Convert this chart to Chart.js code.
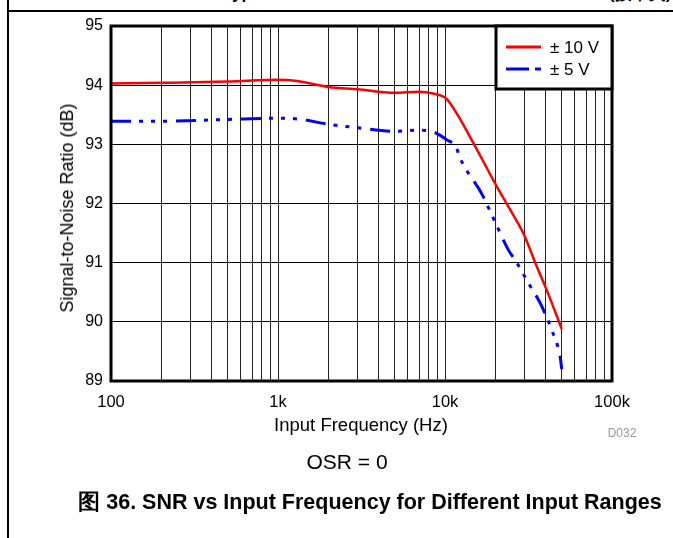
<!DOCTYPE html>
<html>
<head>
<meta charset="utf-8">
<script src="https://cdn.jsdelivr.net/npm/chart.js@4.4.1/dist/chart.umd.min.js"></script>
<style>
  html, body { margin: 0; padding: 0; background: #fff; }
  body { width: 673px; height: 538px; position: relative; overflow: hidden; font-family: 'Liberation Sans', Arial, sans-serif; }
  #chart { position: absolute; left: 0; top: 0; }
  .frame-left { position: absolute; left: 7px; top: 0; width: 1.5px; height: 538px; background: #000; }
  .frame-top { position: absolute; left: 7px; top: 10px; width: 666px; height: 1.5px; background: #000; }
  .txt { position: absolute; white-space: nowrap; line-height: 1; color: #000; }
  .c { transform: translate(-50%, -50%); }
</style>
</head>
<body>
<div class="frame-left"></div>
<div class="frame-top"></div>
<div class="txt" style="left:223px; top:-15px; font-size:17px; font-weight:bold;">Typical Characteristics</div>
<div class="txt" style="left:609px; top:-15px; font-size:17px; font-weight:bold;">(接下页)</div>
<canvas id="chart" width="673" height="538"></canvas>
<div class="txt c" style="left:67px; top:208px; font-size:18px; transform: translate(-50%, -50%) rotate(-90deg);">Signal-to-Noise Ratio (dB)</div>
<div class="txt c" style="left:361px; top:425px; font-size:18.5px;">Input Frequency (Hz)</div>
<div class="txt c" style="left:622px; top:433px; font-size:12px; color:#999;">D032</div>
<div class="txt c" style="left:347px; top:461px; font-size:21px;">OSR = 0</div>
<div class="txt c" style="left:370px; top:503px; font-size:21.5px; font-weight:bold;">图 36. SNR vs Input Frequency for Different Input Ranges</div>

<script>
// ±10 V range
const freq10 = [100, 200, 500, 1000, 1300, 2000, 3000, 5000, 7000, 8500, 10000, 10700, 12000, 14800, 20400, 24500, 29400, 35400, 40600, 50000];
const snr10 = [94.03, 94.04, 94.06, 94.09, 94.07, 93.97, 93.93, 93.87, 93.89, 93.86, 93.79, 93.70, 93.48, 93.02, 92.29, 91.90, 91.50, 90.94, 90.54, 89.88];

// ±5 V range
const freq5 = [100, 200, 500, 1000, 1300, 2000, 3000, 5000, 7000, 8500, 10200, 11700, 12300, 16700, 20000, 23900, 26900, 31500, 37100, 43600, 48900, 50000];
const snr5 = [93.39, 93.39, 93.42, 93.44, 93.43, 93.34, 93.28, 93.22, 93.24, 93.21, 93.08, 92.94, 92.77, 92.15, 91.68, 91.22, 91.00, 90.66, 90.32, 89.86, 89.41, 89.20];

const seriesLabels = ['± 10 V', '± 5 V'];

// log axis: gridlines at 1..9 per decade, labels only at decades
const decadeValues = [100, 1000, 10000, 100000];
const decadeLabels = ['100', '1k', '10k', '100k'];
const gridFreqs = [];
for (let d = 100; d < 100000; d *= 10) {
    for (let m = 1; m < 10; m++) gridFreqs.push(d * m);
}
gridFreqs.push(100000);

const yTicks = [89, 90, 91, 92, 93, 94, 95];

const FONT = "'Liberation Sans', Arial, sans-serif";
const blueDash = [20, 8, 4, 8, 4, 8, 4, 9];

const toPoints = (xs, ys) => xs.map((x, i) => ({ x: x, y: ys[i] }));

const frameAndLegend = {
    id: 'frameAndLegend',
    afterDatasetsDraw(chart) {
        const { ctx, chartArea: a } = chart;
        ctx.save();
        ctx.strokeStyle = '#000';
        ctx.lineWidth = 3;
        ctx.strokeRect(a.left, a.top, a.right - a.left, a.bottom - a.top);
        ctx.restore();
    },
    afterDraw(chart) {
        const { ctx, chartArea: a } = chart;
        const boxW = 116, boxH = 63;
        const x0 = a.right - boxW, y0 = a.top;
        ctx.save();
        ctx.fillStyle = '#fff';
        ctx.fillRect(x0, y0, boxW, boxH);
        ctx.strokeStyle = '#000';
        ctx.lineWidth = 3;
        ctx.strokeRect(x0, y0, boxW, boxH);

        ctx.font = '17px ' + FONT;
        ctx.fillStyle = '#000';
        ctx.textBaseline = 'middle';
        const rows = [y0 + 21, y0 + 43];
        chart.data.datasets.forEach((ds, i) => {
            ctx.beginPath();
            ctx.strokeStyle = ds.borderColor;
            ctx.lineWidth = 3;
            ctx.setLineDash(i === 1 ? [23, 6, 6, 100] : []);
            ctx.moveTo(x0 + 10, rows[i]);
            ctx.lineTo(x0 + 45, rows[i]);
            ctx.stroke();
            ctx.setLineDash([]);
            ctx.fillText(ds.label, x0 + 54, rows[i] + 1);
        });
        ctx.restore();
    }
};

new Chart(document.getElementById('chart'), {
    type: 'line',
    data: {
        datasets: [{
            label: seriesLabels[0],
            data: toPoints(freq10, snr10),
            borderColor: '#ff0000',
            borderWidth: 2.5,
            pointRadius: 0,
            cubicInterpolationMode: 'monotone',
            fill: false
        }, {
            label: seriesLabels[1],
            data: toPoints(freq5, snr5),
            borderColor: '#0000ff',
            borderWidth: 3,
            borderDash: blueDash,
            pointRadius: 0,
            cubicInterpolationMode: 'monotone',
            fill: false
        }]
    },
    options: {
        responsive: false,
        animation: false,
        layout: { padding: { left: 0, top: 26, right: 61, bottom: 0 } },
        plugins: { legend: { display: false }, tooltip: { enabled: false } },
        scales: {
            x: {
                type: 'logarithmic',
                min: 100,
                max: 100000,
                afterBuildTicks: (scale) => { scale.ticks = gridFreqs.map(v => ({ value: v })); },
                afterFit: (scale) => { scale.height = 157; },
                grid: { color: '#222', lineWidth: 1, drawTicks: false },
                border: { display: false },
                ticks: {
                    autoSkip: false,
                    maxRotation: 0,
                    padding: 12,
                    color: '#000',
                    font: { family: FONT, size: 16.5 },
                    callback: (v) => {
                        const k = decadeValues.indexOf(v);
                        return k >= 0 ? decadeLabels[k] : '';
                    }
                }
            },
            y: {
                min: 89,
                max: 95,
                afterBuildTicks: (scale) => { scale.ticks = yTicks.map(v => ({ value: v })); },
                afterFit: (scale) => { scale.width = 111; },
                grid: { color: '#000', lineWidth: 1, drawTicks: false },
                border: { display: false },
                ticks: {
                    padding: 8,
                    color: '#000',
                    font: { family: FONT, size: 16 }
                }
            }
        }
    },
    plugins: [frameAndLegend]
});
</script>
</body>
</html>
